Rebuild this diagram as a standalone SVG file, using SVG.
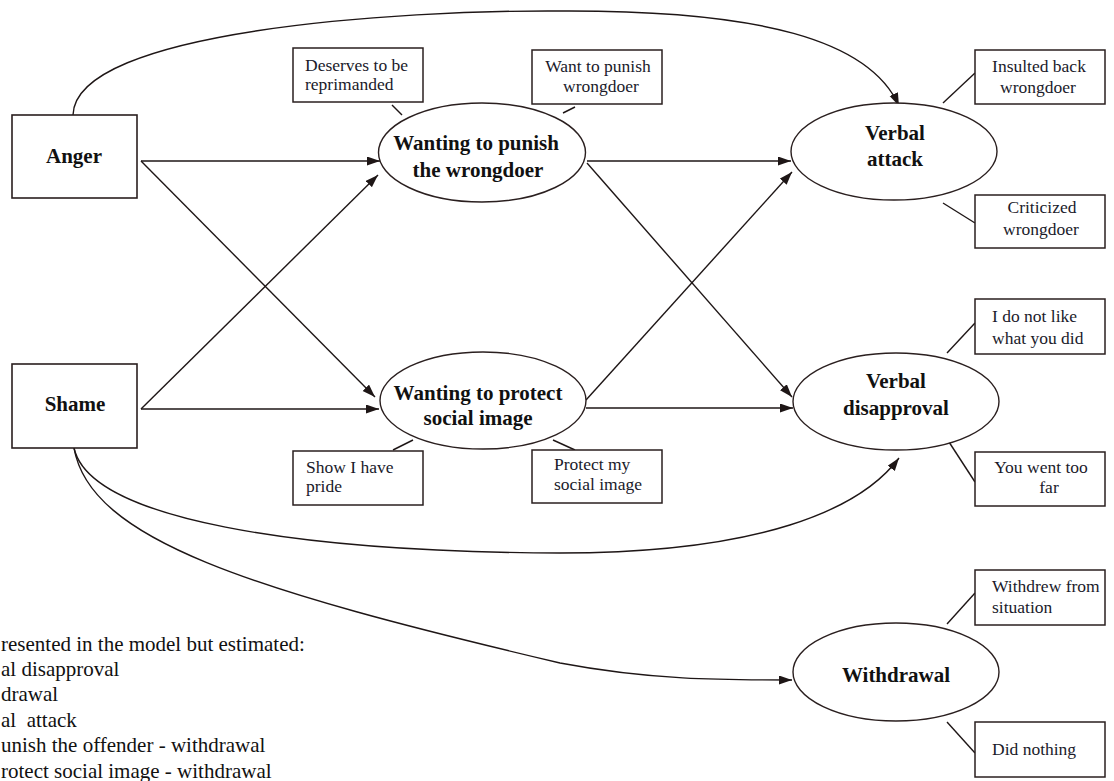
<svg xmlns="http://www.w3.org/2000/svg" width="1114" height="781" viewBox="0 0 1114 781">
<defs>
<marker id="ah" markerUnits="userSpaceOnUse" markerWidth="14" markerHeight="10" refX="13" refY="4.5" orient="auto">
<path d="M0,0 L13,4.5 L0,9 z" fill="#1e1616"/>
</marker>
<style>
.n{fill:#fff;stroke:#2a1f1f;stroke-width:1.6}
.e{fill:#fff;stroke:#2a1f1f;stroke-width:1.4}
.b{fill:#fff;stroke:#2a1f1f;stroke-width:1.5}
.c{fill:none;stroke:#1e1616;stroke-width:1.4}
.a{fill:none;stroke:#1e1616;stroke-width:1.4;marker-end:url(#ah)}
.t{font-family:"Liberation Serif",serif;font-weight:bold;font-size:21px;fill:#111;text-anchor:middle}
.s{font-family:"Liberation Serif",serif;font-size:17.5px;fill:#1a1a2a}
.m{text-anchor:middle}
.f{font-family:"Liberation Serif",serif;font-size:21px;fill:#111;white-space:pre}
</style>
</defs>
<rect width="1114" height="781" fill="#fff"/>
<g id="connectors">
<path class="a" d="M73,115 C75,30 400,10 560,11 C760,10 870,40 899,106"/>
<path class="a" d="M141,161 L380,161"/>
<path class="a" d="M141,161 L375,397"/>
<path class="a" d="M141,409 L378,175"/>
<path class="a" d="M141,409 L379,409"/>
<path class="a" d="M587,161 L791,161"/>
<path class="a" d="M587,163 L792,397"/>
<path class="a" d="M586,400 L792,172"/>
<path class="a" d="M586,408 L793,408"/>
<path class="a" d="M74,448 C90,520 300,552 560,553 C760,553 860,510 899,458"/>
<path class="a" d="M74,448 C90,540 250,590 560,663 C650,680 720,680 792,680"/>
<path class="c" d="M392,105 L402,115"/>
<path class="c" d="M563,113 L575,107"/>
<path class="c" d="M943,103 L975,73"/>
<path class="c" d="M943,203 L975,223"/>
<path class="c" d="M947,353 L975,323"/>
<path class="c" d="M949,442 L975,482"/>
<path class="c" d="M947,624 L975,593"/>
<path class="c" d="M947,722 L975,753"/>
<path class="c" d="M393,450 L413,440"/>
<path class="c" d="M553,440 L575,450"/>
</g>
<g id="anger"><rect class="n" x="12" y="115" width="125" height="83"/><text class="t" x="74" y="163">Anger</text></g>
<g id="shame"><rect class="n" x="12" y="364" width="125" height="84"/><text class="t" x="75" y="411">Shame</text></g>
<g id="punish"><ellipse class="e" cx="482" cy="152.5" rx="103.5" ry="49.5"/><text class="t" x="476" y="150">Wanting to punish</text><text class="t" x="478" y="177">the wrongdoer</text></g>
<g id="protect"><ellipse class="e" cx="483" cy="400.5" rx="103" ry="48.5"/><text class="t" x="478" y="400">Wanting to protect</text><text class="t" x="478" y="425">social image</text></g>
<g id="verbal-attack"><ellipse class="e" cx="894" cy="151.5" rx="103" ry="48.5"/><text class="t" x="895" y="140">Verbal</text><text class="t" x="895" y="166">attack</text></g>
<g id="verbal-disapproval"><ellipse class="e" cx="896" cy="401.5" rx="103" ry="48.5"/><text class="t" x="896" y="388">Verbal</text><text class="t" x="896" y="415">disapproval</text></g>
<g id="withdrawal"><ellipse class="e" cx="896" cy="672" rx="103" ry="49"/><text class="t" x="896" y="682">Withdrawal</text></g>
<g id="deserves"><rect class="b" x="293" y="48" width="130" height="54"/><text class="s" x="305" y="71">Deserves to be</text><text class="s" x="305" y="90">reprimanded</text></g>
<g id="want-punish"><rect class="b" x="532" y="50" width="130" height="54"/><text class="s m" x="598" y="72">Want to punish</text><text class="s m" x="601" y="92">wrongdoer</text></g>
<g id="insulted"><rect class="b" x="975" y="50" width="130" height="54"/><text class="s m" x="1039" y="72">Insulted back</text><text class="s m" x="1038" y="93">wrongdoer</text></g>
<g id="criticized"><rect class="b" x="975" y="195" width="130" height="53"/><text class="s m" x="1042" y="213">Criticized</text><text class="s m" x="1041" y="235">wrongdoer</text></g>
<g id="not-like"><rect class="b" x="975" y="299" width="130" height="55"/><text class="s" x="992" y="322">I do not like</text><text class="s" x="992" y="344">what you did</text></g>
<g id="too-far"><rect class="b" x="975" y="452" width="130" height="54"/><text class="s m" x="1041" y="473">You went too</text><text class="s m" x="1049" y="493">far</text></g>
<g id="withdrew"><rect class="b" x="975" y="570" width="130" height="55"/><text class="s" x="992" y="592">Withdrew from</text><text class="s" x="992" y="613">situation</text></g>
<g id="did-nothing"><rect class="b" x="975" y="722" width="130" height="55"/><text class="s" x="992" y="755">Did nothing</text></g>
<g id="pride"><rect class="b" x="293" y="451" width="130" height="54"/><text class="s" x="306" y="473">Show I have</text><text class="s" x="306" y="492">pride</text></g>
<g id="protect-image"><rect class="b" x="532" y="450" width="130" height="53"/><text class="s" x="554" y="470">Protect my</text><text class="s" x="554" y="490">social image</text></g>
<g id="note">
<text class="f" x="1" y="651">resented in the model but estimated:</text>
<text class="f" x="1" y="676">al disapproval</text>
<text class="f" x="1" y="701">drawal</text>
<text class="f" x="1" y="727">al&#160; attack</text>
<text class="f" x="1" y="752">unish the offender - withdrawal</text>
<text class="f" x="1" y="778">rotect social image - withdrawal</text>
</g>
</svg>
